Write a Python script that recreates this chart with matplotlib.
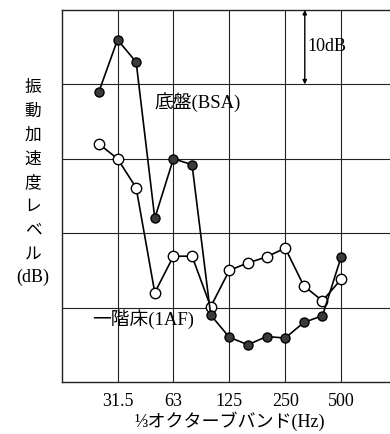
"""1/3オクターブバンド 振動加速度レベル: 底盤(BSA) と 一階床(1AF)"""
import matplotlib
matplotlib.use('Agg')
import matplotlib.pyplot as plt
import numpy as np

plt.rcParams['font.family'] = ['Liberation Serif', 'DejaVu Serif', 'Noto Sans CJK JP']

# 1/3オクターブ帯域 (16 Hz - 1000 Hz)
bands = ['16', '20', '25', '31.5', '40', '50', '63', '80', '100', '125',
         '160', '200', '250', '315', '400', '500', '630', '800', '1000']
data_bands = ['25', '31.5', '40', '50', '63', '80', '100', '125',
              '160', '200', '250', '315', '400', '500']
tick_bands = ['31.5', '63', '125', '250', '500']

# 振動加速度レベル (dB, 相対値)
bsa = [39.0, 46.0, 43.0, 22.0, 30.0, 29.2, 9.0, 6.0, 5.0, 6.1, 5.9, 8.0, 8.9, 16.8]
af1 = [32.0, 30.0, 26.1, 12.0, 16.9, 16.9, 10.1, 15.0, 16.0, 16.8, 18.0, 12.9, 10.9, 13.8]

xpos = [bands.index(b) for b in data_bands]
tpos = [bands.index(b) for b in tick_bands]

fig = plt.figure(figsize=(3.9, 4.34), dpi=100)
fig.patch.set_facecolor('white')
ax = fig.add_axes([0.158, 0.12, 0.86, 0.857])
ax.set_xlim(0, len(bands) - 1)
ax.set_ylim(0, 50)

# grid
for t in tpos:
    ax.axvline(t, color='#222222', lw=0.8, zorder=1)
for yv in [10, 20, 30, 40]:
    ax.axhline(yv, color='#222222', lw=0.8, zorder=1)
for s in ax.spines.values():
    s.set_linewidth(1.0)
    s.set_color('#222222')

ax.plot(xpos, af1, '-o', color='black', lw=1.2, markersize=7.5,
        markerfacecolor='white', markeredgecolor='black', markeredgewidth=1.0, zorder=3)
ax.plot(xpos, bsa, '-o', color='black', lw=1.2, markersize=6.5,
        markerfacecolor='#3a3a3a', markeredgecolor='black', markeredgewidth=1.0, zorder=4)

ax.set_xticks(tpos)
ax.set_xticklabels(tick_bands, fontsize=13)
ax.set_yticks([])
ax.tick_params(axis='x', length=0, pad=8)
ax.set_xlabel('⅓オクターブバンド(Hz)', fontsize=13, labelpad=1)

# labels in the plot
ax.text(7.3, 37.6, '底盤(BSA)', fontsize=13.5, ha='center', va='center')
ax.text(4.35, 8.4, '一階床(1AF)', fontsize=13.5, ha='center', va='center')

# 10dB scale arrow
ax.annotate('', xy=(13.05, 40), xytext=(13.05, 50),
            arrowprops=dict(arrowstyle='<|-|>', color='black', lw=1.0,
                            mutation_scale=6, shrinkA=0, shrinkB=0))
ax.text(13.2, 45.1, '10dB', fontsize=13, ha='left', va='center')

# vertical y label
chars = ['振', '動', '加', '速', '度', 'レ', 'ベ', 'ル']
for i, c in enumerate(chars):
    ypx = 88 + i * 23.8
    fig.text(33 / 390, 1 - ypx / 434, c, fontsize=12, ha='center', va='center')
fig.text(33 / 390, 1 - 277 / 434, '(dB)', fontsize=13, ha='center', va='center')

fig.savefig('out.png', dpi=100, facecolor='white')
plt.close(fig)
